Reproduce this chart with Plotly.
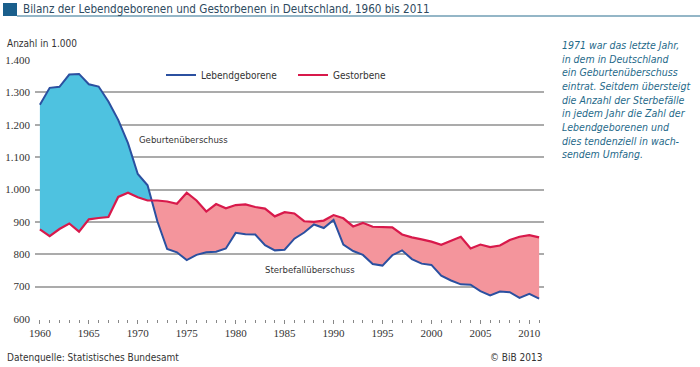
import plotly.graph_objects as go

years = list(range(1960, 2012))
births = [1262, 1314, 1317, 1355, 1357, 1325, 1318, 1272, 1215, 1143, 1048, 1013,
          902, 816, 806, 782, 798, 806, 808, 818, 866, 862, 861, 828, 812, 814,
          848, 867, 892, 881, 906, 830, 810, 798, 770, 765, 797, 812, 785, 771,
          767, 734, 719, 707, 706, 686, 673, 685, 683, 665, 678, 663]
deaths = [877, 856, 878, 895, 870, 908, 912, 915, 977, 990, 976, 966,
          966, 963, 956, 990, 966, 932, 955, 942, 952, 954, 946, 941, 917, 930,
          926, 902, 900, 904, 921, 911, 886, 897, 885, 885, 883, 861, 852, 846,
          839, 829, 842, 854, 818, 830, 822, 827, 844, 854, 859, 852]
y_ticks = [600, 700, 800, 900, 1000, 1100, 1200, 1300, 1400]
y_tick_labels = ["600", "700", "800", "900", "1.000", "1.100", "1.200", "1.300", "1.400"]
x_ticks = [1960, 1965, 1970, 1975, 1980, 1985, 1990, 1995, 2000, 2005, 2010]

W, H = 700, 367
L, R, T, B = 35, 156, 60, 48
PW, PH = W - L - R, H - T - B

def px(xp):
    return (xp - L) / PW

def py(yp):
    return 1 - (yp - T) / PH

# crossover point (linear interpolation between the two years where sign changes)
cross = None
for i in range(len(years) - 1):
    d0 = births[i] - deaths[i]
    d1 = births[i + 1] - deaths[i + 1]
    if d0 > 0 and d1 < 0:
        t = d0 / (d0 - d1)
        cx = years[i] + t
        cy = deaths[i] + t * (deaths[i + 1] - deaths[i])
        cross = (i, cx, cy)
        break

i, cx, cy = cross
pos_x = years[:i + 1] + [cx] + years[:i + 1][::-1]
pos_y = births[:i + 1] + [cy] + deaths[:i + 1][::-1]
neg_x = [cx] + years[i + 1:] + years[i + 1:][::-1] + [cx]
neg_y = [cy] + deaths[i + 1:] + births[i + 1:][::-1] + [cy]

BLUE_FILL = "#4EC2E0"
PINK_FILL = "#F4959C"
BLUE_LINE = "#2B50A0"
RED_LINE = "#D8194B"
SANS = "DejaVu Sans Condensed, Liberation Sans Narrow, Arial Narrow, sans-serif"
SERIF = "Liberation Serif, DejaVu Serif, serif"

fig = go.Figure()
fig.add_trace(go.Scatter(x=pos_x, y=pos_y, fill="toself", fillcolor=BLUE_FILL,
                         mode="none", showlegend=False, hoverinfo="skip"))
fig.add_trace(go.Scatter(x=neg_x, y=neg_y, fill="toself", fillcolor=PINK_FILL,
                         mode="none", showlegend=False, hoverinfo="skip"))
fig.add_trace(go.Scatter(x=years, y=births, mode="lines", name="Lebendgeborene",
                         line=dict(color=BLUE_LINE, width=2)))
fig.add_trace(go.Scatter(x=years, y=deaths, mode="lines", name="Gestorbene",
                         line=dict(color=RED_LINE, width=2.2)))

fig.update_layout(
    width=W, height=H,
    margin=dict(l=L, r=R, t=T, b=B, pad=0),
    paper_bgcolor="white", plot_bgcolor="white",
    font=dict(family=SANS, size=10, color="#333333"),
    legend=dict(orientation="h", x=px(161), y=py(75), xanchor="left", yanchor="middle",
                bgcolor="rgba(0,0,0,0)", font=dict(family=SANS, size=10, color="#333"),
                entrywidth=87, entrywidthmode="pixels", itemwidth=30),
    xaxis=dict(range=[1959.5, 2011.5], tickvals=x_ticks, ticks="outside", ticklen=4,
               tickcolor="#888", tickwidth=1, showgrid=False, zeroline=False,
               showline=False, automargin=False,
               tickfont=dict(family=SERIF, size=11, color="#333"),
               minor=dict(dtick=1, ticks="outside", ticklen=3, tickcolor="#888", showgrid=False)),
    yaxis=dict(range=[600, 1400], tickvals=y_ticks, ticktext=y_tick_labels,
               showgrid=True, gridcolor="#ABABAB", gridwidth=1.5, zeroline=False,
               showline=False, ticks="", ticklabelstandoff=4, automargin=False,
               tickfont=dict(family=SERIF, size=11, color="#333")),
)

ann = [
    dict(text="Bilanz der Lebendgeborenen und Gestorbenen in Deutschland, 1960 bis 2011",
         x=px(21), y=py(9), xanchor="left", yanchor="middle",
         font=dict(family=SANS, size=11.6, color="#2E4A60")),
    dict(text="Anzahl in 1.000", x=px(5), y=py(44), xanchor="left", yanchor="middle",
         font=dict(family=SANS, size=10, color="#333")),
    dict(text="Geburtenüberschuss", x=1969.9, y=1153, xref="x", yref="y",
         xanchor="left", yanchor="middle", font=dict(family=SANS, size=9.5, color="#333")),
    dict(text="Sterbefallüberschuss", x=1982.8, y=752, xref="x", yref="y",
         xanchor="left", yanchor="middle", font=dict(family=SANS, size=9.5, color="#333")),
    dict(text="1971 war das letzte Jahr,<br>in dem in Deutschland<br>ein Geburtenüberschuss"
              "<br>eintrat. Seitdem übersteigt<br>die Anzahl der Sterbefälle"
              "<br>in jedem Jahr die Zahl der<br>Lebendgeborenen und"
              "<br>dies tendenziell in wach-<br>sendem Umfang.",
         x=px(560), y=py(37), xanchor="left", yanchor="top", align="left",
         font=dict(family=SANS, size=10.5, color="#1F6A8A", style="italic")),
    dict(text="Datenquelle: Statistisches Bundesamt", x=px(5), y=py(357),
         xanchor="left", yanchor="middle", font=dict(family=SANS, size=10, color="#333")),
    dict(text="© BiB 2013", x=px(544), y=py(357), xanchor="right", yanchor="middle",
         font=dict(family=SANS, size=10, color="#333")),
]
for a in ann:
    a.setdefault("xref", "paper")
    a.setdefault("yref", "paper")
    a["showarrow"] = False
    fig.add_annotation(**a)

fig.add_shape(type="rect", xref="paper", yref="paper", x0=px(3), x1=px(17), y0=py(16), y1=py(3),
              fillcolor="#1A5F8C", line=dict(width=0))
fig.add_shape(type="line", xref="paper", yref="paper", x0=px(17), x1=px(700), y0=py(16), y1=py(16),
              line=dict(color="#2A6F8F", width=1.2))

fig.write_html("out.html", config={"displayModeBar": False},
               post_script="document.body.style.margin='0';document.body.style.overflow='hidden';")
